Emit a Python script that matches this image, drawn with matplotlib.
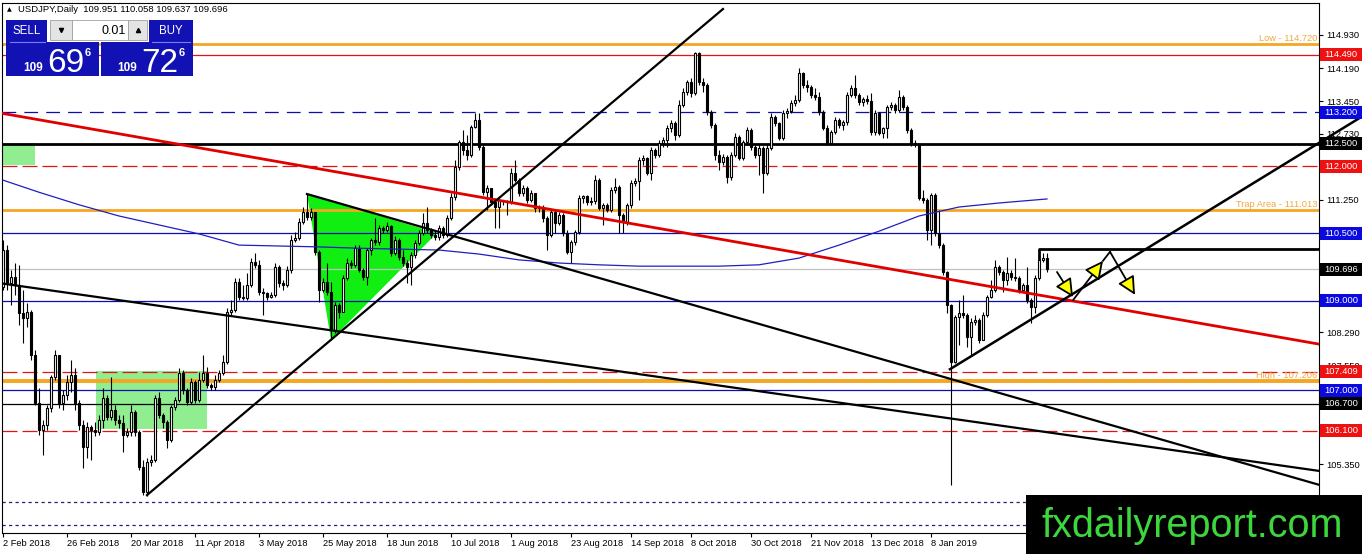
import matplotlib
matplotlib.use("Agg")
import matplotlib.pyplot as plt
import matplotlib.transforms as mtransforms
from matplotlib.patches import Rectangle, Polygon
import numpy as np

plt.rcParams['font.family'] = ['Liberation Sans', 'DejaVu Sans']

symbol = "USDJPY,Daily"

# daily candles (open = previous close)
first_open = 109.30
closes = [
    110.13, 109.39, 109.53, 109.35, 108.72, 108.61, 108.75, 107.79, 106.72, 106.11,
    106.22, 106.60, 107.30, 107.79, 106.72, 106.89, 107.18, 107.34, 106.72, 106.22,
    105.73, 106.18, 106.11, 106.07, 106.34, 106.83, 106.40, 106.56, 106.34, 106.27,
    106.00, 106.07, 106.51, 106.07, 105.29, 104.73, 105.40, 105.44, 106.83, 106.45,
    106.29, 105.89, 106.63, 106.78, 107.39, 107.01, 106.74, 107.18, 106.78, 107.23,
    107.39, 107.12, 107.07, 107.23, 107.39, 107.63, 108.75, 108.79, 109.41, 109.08,
    109.06, 109.35, 109.86, 109.80, 109.19, 109.17, 109.08, 109.13, 109.75, 109.39,
    109.35, 109.69, 110.35, 110.40, 110.76, 110.98, 110.87, 110.98, 110.09, 109.24,
    109.41, 109.19, 108.35, 108.90, 108.75, 109.51, 109.84, 109.80, 110.17, 109.69,
    109.53, 110.13, 110.35, 110.31, 110.62, 110.58, 110.67, 110.06, 110.35, 109.97,
    109.84, 109.75, 110.02, 110.29, 110.51, 110.73, 110.58, 110.47, 110.42, 110.62,
    110.47, 110.85, 111.31, 111.98, 112.54, 112.36, 112.25, 112.88, 113.03, 112.43,
    111.42, 111.51, 111.20, 111.09, 111.25, 111.22, 111.20, 111.85, 111.69, 111.40,
    111.51, 111.25, 111.40, 111.07, 111.09, 110.85, 110.47, 110.98, 110.73, 110.91,
    110.51, 110.09, 110.31, 110.53, 111.29, 111.33, 111.20, 111.22, 111.69, 111.07,
    111.14, 111.02, 111.47, 111.54, 110.91, 110.76, 111.14, 111.63, 111.67, 112.14,
    112.18, 111.85, 112.36, 112.25, 112.52, 112.59, 112.85, 112.97, 112.70, 113.37,
    113.66, 113.88, 113.63, 114.53, 113.88, 113.81, 113.21, 112.92, 112.25, 112.10,
    112.21, 111.76, 112.25, 112.65, 112.18, 112.54, 112.81, 112.43, 112.25, 112.41,
    111.85, 112.41, 113.10, 112.97, 112.63, 113.19, 113.23, 113.41, 113.48, 114.08,
    113.81, 113.77, 113.59, 113.54, 113.21, 112.85, 112.52, 112.76, 113.03, 112.92,
    112.99, 113.59, 113.75, 113.59, 113.43, 113.50, 113.46, 112.76, 113.19, 112.74,
    112.85, 113.32, 113.37, 113.26, 113.54, 113.32, 112.81, 112.52, 112.50, 111.29,
    111.25, 110.58, 111.36, 110.51, 110.24, 109.64, 108.90, 107.63, 108.64, 108.72,
    108.68, 108.19, 108.52, 108.57, 108.12, 108.68, 109.08, 109.24, 109.75, 109.64,
    109.46, 109.62, 109.53, 109.51, 109.24, 109.35, 109.02, 108.86, 109.51, 109.91,
    109.951, 109.696,
]
highs = [
    110.35, 110.24, 109.69, 109.84, 109.80, 109.24, 108.95, 108.79, 107.90, 107.05,
    106.34, 106.67, 107.34, 107.90, 107.79, 107.01, 107.34, 107.68, 107.50, 106.78,
    106.34, 106.29, 106.22, 106.29, 106.45, 107.05, 106.89, 107.30, 106.67, 106.45,
    106.45, 106.16, 106.67, 106.56, 106.11, 105.44, 105.49, 105.56, 106.89, 106.96,
    106.49, 106.34, 106.67, 106.85, 107.50, 107.45, 107.05, 107.27, 107.23, 107.41,
    107.79, 107.52, 107.16, 107.34, 107.45, 107.79, 108.84, 109.02, 109.51, 109.51,
    109.35, 109.62, 109.95, 110.06, 109.91, 109.28, 109.19, 109.19, 109.84, 109.80,
    109.46, 109.77, 110.47, 110.53, 110.85, 111.09, 111.38, 111.07, 110.98, 110.13,
    109.51, 109.84, 109.41, 108.97, 108.95, 109.57, 109.95, 109.91, 110.24, 110.24,
    109.73, 110.17, 110.40, 110.85, 110.69, 110.67, 110.76, 110.69, 110.44, 110.40,
    110.13, 109.91, 110.09, 110.35, 110.58, 110.95, 111.09, 110.62, 110.58, 110.69,
    110.67, 110.91, 111.40, 112.14, 112.59, 112.81, 112.70, 112.92, 113.19, 113.19,
    112.47, 111.58, 111.47, 111.29, 111.29, 111.25, 111.25, 111.96, 112.14, 111.74,
    111.58, 111.56, 111.47, 111.40, 111.14, 111.14, 110.89, 111.02, 111.02, 110.98,
    110.95, 110.58, 110.35, 110.58, 111.36, 111.36, 111.36, 111.31, 111.80, 111.74,
    111.18, 111.18, 111.54, 111.74, 111.58, 110.95, 111.18, 111.69, 111.74, 112.21,
    112.25, 112.21, 112.43, 112.41, 112.59, 112.65, 112.92, 113.03, 113.01, 113.48,
    113.75, 113.93, 113.97, 114.55, 114.55, 113.97, 113.86, 113.26, 112.97, 112.36,
    112.27, 112.25, 112.32, 112.74, 112.70, 112.59, 112.88, 112.85, 112.47, 112.47,
    112.45, 112.47, 113.19, 113.14, 112.99, 113.26, 113.30, 113.48, 113.59, 114.19,
    114.10, 113.93, 113.81, 113.75, 113.66, 113.26, 112.92, 112.81, 113.10, 113.08,
    113.03, 113.66, 113.81, 114.04, 113.63, 113.54, 113.59, 113.63, 113.26, 113.21,
    112.88, 113.37, 113.43, 113.41, 113.70, 113.59, 113.37, 112.85, 112.59, 112.52,
    111.47, 111.29, 111.40, 111.40, 111.02, 110.29, 109.66, 108.93, 108.68, 109.02,
    109.13, 108.72, 108.61, 108.68, 108.61, 108.75, 109.13, 109.46, 109.91, 109.80,
    109.69, 109.97, 109.69, 109.95, 109.55, 109.39, 109.75, 109.06, 109.57, 110.02,
    110.06, 110.058,
]
lows = [
    109.24, 109.24, 108.90, 109.13, 108.46, 108.05, 108.41, 107.68, 106.67, 106.00,
    105.56, 106.11, 106.51, 107.23, 106.60, 106.56, 106.78, 106.96, 106.56, 106.11,
    105.27, 105.49, 105.44, 105.98, 106.00, 106.16, 106.34, 106.34, 106.22, 106.16,
    105.62, 105.96, 105.98, 105.98, 105.22, 104.66, 104.64, 105.31, 105.40, 106.38,
    106.16, 105.71, 105.85, 106.56, 106.74, 106.92, 106.67, 106.69, 106.72, 106.74,
    107.18, 107.05, 107.01, 107.01, 107.18, 107.34, 107.58, 108.66, 108.75, 109.02,
    109.02, 109.02, 109.30, 109.73, 109.13, 108.68, 109.02, 109.06, 109.08, 109.30,
    109.24, 109.30, 109.62, 110.31, 110.35, 110.71, 110.80, 110.80, 110.02, 108.97,
    109.19, 109.13, 108.12, 108.28, 108.61, 108.75, 109.46, 109.73, 109.75, 109.64,
    109.46, 109.35, 110.02, 110.24, 110.24, 110.51, 110.53, 110.00, 110.02, 109.91,
    109.77, 109.39, 109.35, 109.95, 110.24, 110.47, 110.51, 110.40, 110.35, 110.35,
    110.40, 110.42, 110.80, 111.25, 111.91, 112.25, 112.14, 112.21, 112.85, 112.36,
    111.36, 111.02, 111.14, 110.62, 110.62, 111.14, 110.91, 111.16, 111.65, 111.33,
    111.33, 111.18, 111.20, 110.98, 110.98, 110.76, 110.13, 110.42, 110.51, 110.69,
    110.44, 110.04, 109.84, 110.24, 110.49, 111.18, 111.14, 111.14, 111.16, 111.02,
    110.69, 110.98, 110.98, 111.40, 110.51, 110.51, 110.69, 111.07, 111.56, 111.25,
    112.03, 111.80, 111.69, 112.18, 112.21, 112.43, 112.43, 112.76, 112.59, 112.65,
    113.32, 113.59, 113.54, 113.59, 113.81, 113.66, 113.14, 112.85, 112.14, 111.91,
    112.03, 111.63, 111.69, 112.21, 112.14, 112.14, 112.47, 112.36, 112.18, 111.80,
    111.40, 111.80, 112.36, 112.90, 112.59, 112.59, 113.08, 113.19, 113.34, 113.43,
    113.75, 113.66, 113.52, 113.48, 113.14, 112.81, 112.47, 112.47, 112.72, 112.85,
    112.81, 112.92, 113.54, 113.52, 113.37, 113.34, 113.39, 112.70, 112.70, 112.70,
    112.63, 112.63, 113.26, 113.19, 113.21, 113.26, 112.74, 112.45, 112.43, 111.25,
    111.18, 110.35, 110.24, 110.44, 110.17, 109.57, 108.72, 104.89, 107.61, 108.01,
    108.61, 107.96, 107.79, 108.46, 108.05, 108.12, 108.64, 109.06, 109.19, 109.57,
    109.19, 109.35, 109.46, 109.44, 109.17, 109.19, 108.95, 108.50, 108.72, 109.46,
    109.86, 109.637,
]
ask = 109.726

# moving average, read at a few bars
ma_bars = [0, 9, 19, 29, 39, 49, 59, 69, 79, 89, 99, 109, 119, 129, 139, 149,
           159, 169, 179, 189, 199, 209, 219, 229, 239, 249, 261]
ma_vals = [111.69, 111.42, 111.14, 110.89, 110.69, 110.49, 110.24, 110.22, 110.20,
           110.17, 110.15, 110.13, 110.04, 109.91, 109.84, 109.80, 109.77, 109.77,
           109.77, 109.80, 109.95, 110.24, 110.55, 110.89, 111.09, 111.18, 111.27]

date_labels = ["2 Feb 2018", "26 Feb 2018", "20 Mar 2018", "11 Apr 2018", "3 May 2018",
               "25 May 2018", "18 Jun 2018", "10 Jul 2018", "1 Aug 2018", "23 Aug 2018",
               "14 Sep 2018", "8 Oct 2018", "30 Oct 2018", "21 Nov 2018", "13 Dec 2018",
               "8 Jan 2019"]
date_bars = [0, 16, 32, 48, 64, 80, 96, 112, 127, 142, 157, 172, 187, 202, 217, 232]
price_ticks = [114.930, 114.190, 113.450, 112.730, 111.250, 108.290, 107.550, 105.350, 104.610]

level_prices = [114.720, 114.490, 113.200, 112.500, 112.000, 111.013, 110.500, 109.696,
                109.000, 107.409, 107.206, 107.000, 106.700, 106.100, 104.500, 104.000]
level_kinds = ['orange', 'red', 'blue_dash', 'black_thick', 'red_dash', 'orange', 'blue', 'gray',
               'blue', 'red_dash', 'orange_thick', 'blue', 'black', 'red_dash', 'dot', 'dot']
box_prices = [114.490, 113.200, 112.500, 112.000, 110.500, 109.696, 109.000, 107.409,
              107.000, 106.700, 106.100]
box_kinds = ['red', 'blue', 'black', 'red', 'blue', 'black', 'blue', 'red', 'blue', 'black', 'red']
note_prices = [114.720, 111.013, 107.206]
note_texts = ["Low - 114.720", "Trap Area - 111.013", "High - 107.206"]

# analyst drawings: (bar, price) points
red_trend = ([-0.75, 329], [113.19, 108.03])
long_down = ([-0.75, 329], [109.39, 105.20])
tri_down = ([76, 329], [111.38, 104.89])
big_up = ([36, 180], [104.66, 115.51])
recent_up = ([236.75, 339.75], [107.47, 113.11])
triangle = [(76, 111.38), (82, 108.12), (108.5, 110.51)]
zone_top = (-1, 8, 112.03, 112.52)
zone_low = (23.25, 51, 106.14, 107.43)
range_top = ([259, 259, 329], [109.93, 110.15, 110.15])
arrows = [((263.5, 109.64), (267.5, 109.08)),
          ((267.5, 109.01), (275.0, 109.89)),
          ((276.75, 110.09), (283.0, 109.13))]

ORANGE = '#f5a623'
RED = '#e01414'
BLUE = '#0c0cb4'
colors = {'orange': ORANGE, 'orange_thick': ORANGE, 'red': RED, 'red_dash': RED,
          'blue': BLUE, 'blue_dash': BLUE, 'black_thick': 'black', 'black': 'black',
          'gray': '#c0c0c0', 'dot': '#20207a'}
widths = {'orange': 2.0, 'orange_thick': 2.8, 'black_thick': 2.0, 'dot': 0.9}
dashes = {'red_dash': (12, 4), 'blue_dash': (11, 6.5), 'dot': (2.6, 2.6)}
box_colors = {'red': '#ee1111', 'blue': '#0a0ae0', 'black': 'black'}

W, H = 1362, 554
fig = plt.figure(figsize=(W / 100, H / 100), dpi=100)
fig.patch.set_facecolor('white')
ax = fig.add_axes([2 / W, 21 / H, 1317 / W, 530 / H])
ax.set_xlim(-0.25, 329)
ax.set_ylim(103.814, 115.644)
for s in ax.spines.values():
    s.set_linewidth(0.8)

o = np.array([first_open] + closes[:-1])
c = np.array(closes)
h = np.maximum(np.array(highs), np.maximum(o, c))
l = np.minimum(np.array(lows), np.minimum(o, c))
x = np.arange(len(c))
up = c >= o

# zones behind candles
ax.add_patch(Rectangle((zone_top[0], zone_top[2]), zone_top[1] - zone_top[0],
                       zone_top[3] - zone_top[2], fc='#90ee90', ec='none', zorder=1))
ax.add_patch(Rectangle((zone_low[0], zone_low[2]), zone_low[1] - zone_low[0],
                       zone_low[3] - zone_low[2], fc='#90ee90', ec='none', zorder=1))
ax.add_patch(Polygon(triangle, closed=True, fc='#11ee11', ec='none', zorder=1))

for p, k in zip(level_prices, level_kinds):
    line = ax.axhline(p, color=colors[k], lw=widths.get(k, 0.9), zorder=2)
    if k in dashes:
        line.set_dashes(dashes[k])

ax.vlines(x, l, h, color='black', lw=0.8, zorder=3)
lo = np.minimum(o, c)
bh = np.maximum(np.abs(c - o), 0.012)
ax.bar(x[up], bh[up], bottom=lo[up], width=0.62, color='white', edgecolor='black', lw=0.8, zorder=4)
ax.bar(x[~up], bh[~up], bottom=lo[~up], width=0.62, color='black', edgecolor='black', lw=0.8, zorder=4)

ax.plot(ma_bars, ma_vals, color='#1f1fc0', lw=0.9, zorder=5)

ax.plot(*red_trend, color='#e00000', lw=2.0, zorder=6)
ax.plot(*long_down, color='black', lw=1.6, zorder=6)
ax.plot(*tri_down, color='black', lw=1.6, zorder=6)
ax.plot(*big_up, color='black', lw=1.6, zorder=6)
ax.plot(*recent_up, color='black', lw=1.8, zorder=6, clip_on=False)
ax.plot(*range_top, color='black', lw=2.0, zorder=6)
for start, end in arrows:
    ax.annotate('', xy=end, xytext=start, zorder=7,
                arrowprops=dict(arrowstyle='-|>,head_length=1.1,head_width=0.55',
                                fc='#ffff00', ec='black', lw=1.3, shrinkA=0, shrinkB=0))
ax.plot([arrows[1][1][0], arrows[2][0][0]], [arrows[1][1][1], arrows[2][0][1]],
        color='black', lw=1.3, zorder=6)

mixed = mtransforms.blended_transform_factory(ax.transAxes, ax.transData)
for p, t in zip(note_prices, note_texts):
    ax.text(0.9985, p + 0.03, t, transform=mixed, ha='right', va='bottom',
            fontsize=6.7, color='#f0a840', zorder=8)

# price axis on the right
ax.yaxis.tick_right()
ax.set_yticks(price_ticks, [f"{v:.3f}" for v in price_ticks])
ax.tick_params(axis='y', labelsize=6.7, length=3, width=0.8, pad=2)
ax.set_xticks(date_bars, date_labels, ha='left')
ax.tick_params(axis='x', labelsize=6.7, length=3, width=0.8, pad=1.5)

bw = 42 / 1317
bh_price = 13 / 44.8
for p, k in zip(box_prices, box_kinds):
    ax.add_patch(Rectangle((1.0008, p - bh_price / 2), bw, bh_price, transform=mixed,
                           fc=box_colors[k], ec='none', clip_on=False, zorder=9))
    ax.text(1.0008 + bw / 2, p, f"{p:.3f}", transform=mixed, ha='center', va='center',
            fontsize=6.7, color='white', clip_on=False, zorder=10)

# overlay in pixel units: header, trade panel, watermark
ov = fig.add_axes([0, 0, 1, 1], zorder=5)
ov.set_xlim(0, W)
ov.set_ylim(H, 0)
ov.axis('off')
ov.patch.set_alpha(0)

ov.text(7, 10, '\u25b2', fontsize=4.5, family='DejaVu Sans', va='center')
ov.text(18, 10, f"{symbol}  {o[-1]:.3f} {h[-1]:.3f} {l[-1]:.3f} {c[-1]:.3f}",
        fontsize=6.8, va='center')

PANEL = '#1212b4'
for r in [(6, 20, 41, 23), (6, 42, 93, 34), (149, 20, 44, 23), (101, 42, 92, 34)]:
    ov.add_patch(Rectangle(r[:2], r[2], r[3], fc=PANEL, ec='none'))
ov.plot([10, 45], [41.5, 41.5], color='#7a7aff', lw=0.8)
ov.plot([152, 190], [41.5, 41.5], color='#7a7aff', lw=0.8)
ov.add_patch(Rectangle((50, 20), 22, 20, fc='#e4e4e4', ec='#a0a0a0', lw=0.6))
ov.add_patch(Rectangle((72, 20), 56, 20, fc='white', ec='#a0a0a0', lw=0.6))
ov.add_patch(Rectangle((128, 20), 19, 20, fc='#e4e4e4', ec='#a0a0a0', lw=0.6))
ov.plot([61], [30], marker='v', ms=3, color='black')
ov.plot([137.5], [30], marker='^', ms=3, color='black')
ov.text(126, 30.5, "0.01", fontsize=9, ha='right', va='center')
ov.text(26.5, 31, "SELL", fontsize=8.3, color='white', ha='center', va='center')
ov.text(171, 31, "BUY", fontsize=8.3, color='white', ha='center', va='center')

for px, price in [(23, c[-1]), (117, ask)]:
    s = f"{price:.3f}"
    ov.text(px, 71, s[:3], fontsize=8.5, weight='bold', color='white', va='baseline')
    ov.text(px + 24, 72, s[4:6], fontsize=24, color='white', va='baseline')
    ov.text(px + 62, 56, s[6], fontsize=8, weight='bold', color='white', va='baseline')

ov.add_patch(Rectangle((1026, 495), 336, 59, fc='black', ec='none'))
ov.text(1042, 537, "fxdailyreport.com", fontsize=28.5, color='#3dd63d', va='baseline')

fig.savefig("out.png", dpi=100)
